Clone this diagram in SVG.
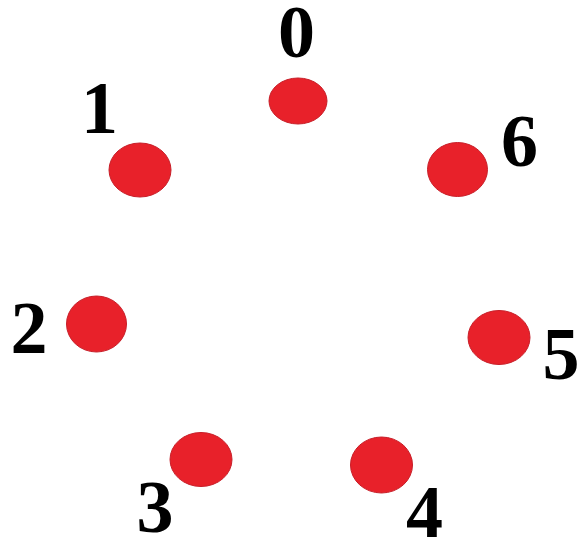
<svg xmlns="http://www.w3.org/2000/svg" width="579" height="538" viewBox="0 0 579 538">
<style>
.dot{fill:#e8212a;stroke:#c81e28;stroke-width:1}
.lbl{font-family:"Liberation Serif","Times New Roman",serif;font-weight:bold;font-size:74px;fill:#000;text-anchor:middle}
</style>
<rect width="579" height="538" fill="#fff"/>
<g id="connectors"></g>
<g id="node0"><ellipse class="dot" cx="298" cy="101" rx="29" ry="23"/><text class="lbl" x="296.5" y="57">0</text></g>
<g id="node1"><ellipse class="dot" cx="140" cy="170" rx="31" ry="27"/><text class="lbl" x="99.5" y="133">1</text></g>
<g id="node2"><ellipse class="dot" cx="96.5" cy="324" rx="30" ry="28"/><text class="lbl" x="29" y="353">2</text></g>
<g id="node3"><ellipse class="dot" cx="201" cy="459.5" rx="31" ry="27"/><text class="lbl" x="155" y="532">3</text></g>
<g id="node4"><ellipse class="dot" cx="381.5" cy="465" rx="31" ry="28"/><text class="lbl" x="424.5" y="537">4</text></g>
<g id="node5"><ellipse class="dot" cx="499" cy="337.5" rx="31" ry="27"/><text class="lbl" x="561" y="379">5</text></g>
<g id="node6"><ellipse class="dot" cx="457.5" cy="169.5" rx="30" ry="27"/><text class="lbl" x="519.5" y="166">6</text></g>
</svg>
